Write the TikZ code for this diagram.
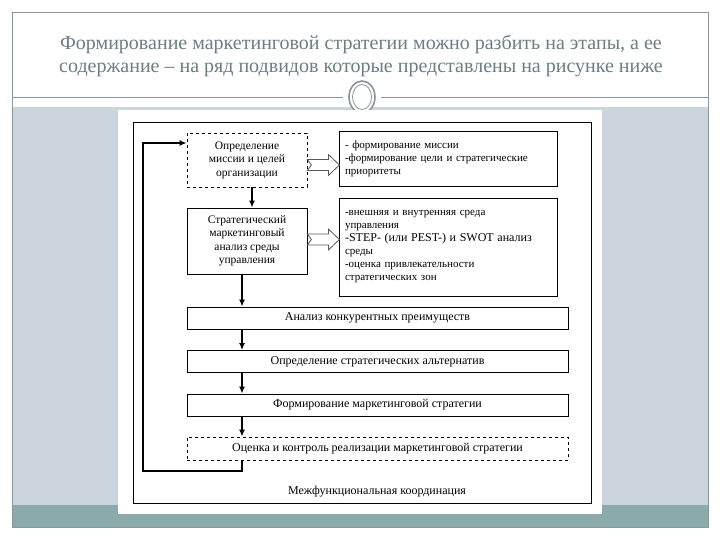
\documentclass[tikz,border=0pt]{standalone}
\usepackage{fontspec}
\setmainfont{Liberation Serif}
\usepackage{xcolor}
\usetikzlibrary{arrows.meta}
\definecolor{panelblue}{HTML}{C9D4DB}
\definecolor{bandteal}{HTML}{8BAAAA}
\definecolor{frameline}{HTML}{8A9799}
\definecolor{titlegray}{HTML}{6B7F82}

\begin{document}
\begin{tikzpicture}[x=1pt,y=-1pt,
  stagebox/.style={draw, line width=0.8pt, minimum width=120, align=center, font=\fontsize{11.5}{13.5}\selectfont, inner sep=0},
  widebox/.style={draw, line width=0.8pt, minimum width=381, minimum height=22, font=\fontsize{12}{13}\selectfont, inner sep=0},
  notebox/.style={draw, line width=0.8pt, minimum width=218, text width=206, align=left, font=\fontsize{11}{13}\selectfont, inner sep=6},
  flow/.style={line width=1.6pt, -{Latex[length=7pt,width=6pt]}},
  hollow/.style={draw=gray!70!black, fill=white, line width=0.8pt}]
  \useasboundingbox (0,0) rectangle (720,540);
  \fill[white] (0,0) rectangle (720,540);
  \fill[panelblue] (12,107) rectangle (708,505);
  \fill[bandteal] (12,505) rectangle (708,527);
  \draw[frameline, line width=0.8pt] (12,12) rectangle (708,527);
  \draw[frameline, line width=1pt] (12,98) -- (343,98);
  \draw[frameline, line width=1pt] (381,98) -- (708,98);
  \draw[frameline, line width=1.6pt, fill=white] (362,97) ellipse (13 and 16);
  \draw[frameline, line width=0.8pt] (362,97) ellipse (9.5 and 12.5);
  \node[font=\fontsize{20}{23}\selectfont, text=titlegray, align=center] (title) at (361,56) {Формирование маркетинговой стратегии можно разбить на этапы, а ее\\содержание – на ряд подвидов которые представлены на рисунке ниже};
  \fill[white] (118,110) rectangle (602,514);
  \draw[line width=0.8pt] (133,122) rectangle (591,503);
  \node[stagebox, dashed, minimum height=54] (mission) at (247,160) {Определение\\миссии и целей\\организации};
  \node[stagebox, minimum height=66] (analysis) at (247,241) {Стратегический\\маркетинговый\\анализ среды\\управления};
  \node[notebox, minimum height=55] (missionnote) at (448,159) {- формирование миссии\\-формирование цели и стратегические\\приоритеты};
  \node[notebox, minimum height=98] (analysisnote) at (448,247) {-внешняя и внутренняя среда\\управления\\{\fontsize{12}{13.5}\selectfont -STEP- (или PEST-) и SWOT анализ}\\среды\\-оценка привлекательности\\стратегических зон};
  \node[widebox] (rivals) at (377.5,318) {Анализ конкурентных преимуществ};
  \node[widebox] (options) at (377.5,361.5) {Определение стратегических альтернатив};
  \node[widebox] (strategy) at (377.5,405) {Формирование маркетинговой стратегии};
  \node[widebox, dashed, minimum height=23] (control) at (377.5,448.5) {Оценка и контроль реализации маркетинговой стратегии};
  \node[font=\fontsize{12}{13}\selectfont] (coord) at (377,492) {Межфункциональная координация};
  \coordinate (col) at (242,0);
  \coordinate (loop) at (143,471);
  \draw[flow] ([xshift=5pt]mission.south) -- ([xshift=5pt]analysis.north);
  \draw[flow] (analysis.south -| col) -- (rivals.north -| col);
  \draw[flow] (rivals.south -| col) -- (options.north -| col);
  \draw[flow] (options.south -| col) -- (strategy.north -| col);
  \draw[flow] (strategy.south -| col) -- (control.north -| col);
  \draw[flow] (control.south -| col) |- (loop) |- ([yshift=17pt]mission.west);
  \draw[hollow] ([yshift=-5pt]mission.east) ++(0,-5.5) -- ++(21,0) -- ++(0,-5) -- ++(11,10.5) -- ++(-11,10.5) -- ++(0,-5) -- ++(-21,0) -- ++(4,-5.5) -- cycle;
  \draw[hollow] ([yshift=1.5pt]analysis.east) ++(0,-5.5) -- ++(21,0) -- ++(0,-5) -- ++(11,10.5) -- ++(-11,10.5) -- ++(0,-5) -- ++(-21,0) -- ++(4,-5.5) -- cycle;
\end{tikzpicture}
\end{document}
